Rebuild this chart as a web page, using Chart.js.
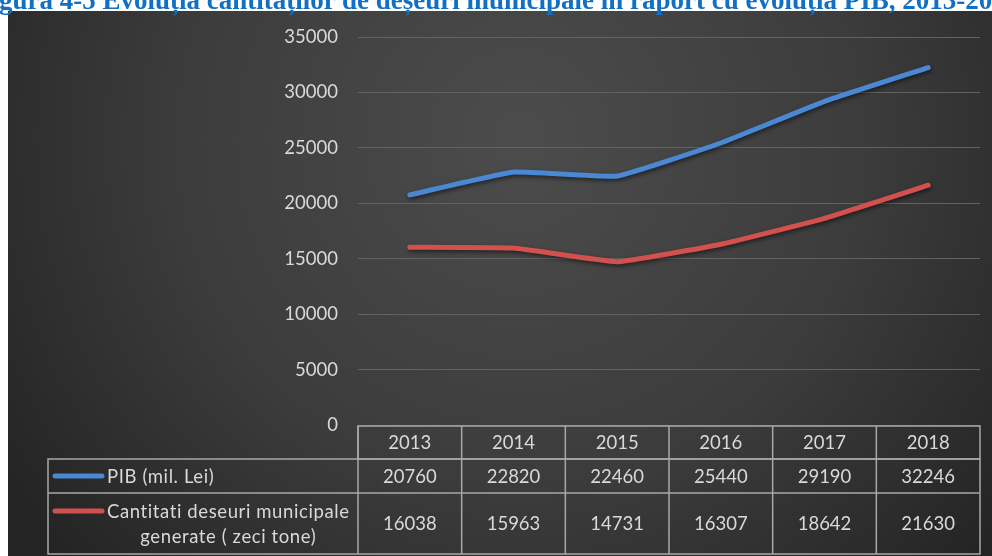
<!DOCTYPE html>
<html lang="ro">
<head>
  <meta charset="UTF-8" />
  <title>Evolutia PIB si deseuri municipale</title>
  <script src="https://cdn.jsdelivr.net/npm/chart.js"></script>
  <style>
    html, body { margin: 0; padding: 0; background: #fff; }
    .wrap { position: relative; width: 992px; height: 556px; overflow: hidden; }
    .title {
      position: absolute;
      left: -25px;
      top: -13px;
      font: bold 27px 'Liberation Serif', 'DejaVu Serif', serif;
      line-height: 27px;
      color: #1170c4;
      white-space: nowrap;
      z-index: 2;
    }
    canvas { position: absolute; left: 0; top: 0; }
  </style>
</head>
<body>
  <div class="wrap">
    <div class="title">Figura 4-5 Evoluția cantităților de deșeuri municipale în raport cu evoluția PIB, 2013-2018</div>
    <canvas id="chart" width="992" height="556"></canvas>
  </div>

  <script>
    const years = ['2013', '2014', '2015', '2016', '2017', '2018'];
    const pib = [20760, 22820, 22460, 25440, 29190, 32246];
    const deseuri = [16038, 15963, 14731, 16307, 18642, 21630];
    const seriesLabels = [['PIB (mil. Lei)'], ['Cantitati deseuri municipale', 'generate ( zeci tone)']];
    const seriesColors = ['#4a88d4', '#d2504e'];
    const yTicks = { min: 0, max: 35000, step: 5000 };

    const textColor = '#d9d9d9';
    const fontFamily = "Lato, 'Open Sans', sans-serif";
    const font = '18.5px ' + fontFamily;

    // dark gradient panel behind the whole chart
    const bgPlugin = {
      id: 'bg',
      beforeDraw(chart) {
        const ctx = chart.ctx;
        const g = ctx.createRadialGradient(520, 140, 0, 520, 140, 620);
        g.addColorStop(0, '#4c4c4c');
        g.addColorStop(0.55, '#3c3c3c');
        g.addColorStop(1, '#242424');
        ctx.save();
        ctx.fillStyle = g;
        ctx.fillRect(8, 11, 984, 545);
        ctx.restore();
      }
    };

    // soft shadow under the lines
    const shadowPlugin = {
      id: 'lineShadow',
      beforeDatasetDraw(chart) {
        const ctx = chart.ctx;
        ctx.save();
        ctx.shadowColor = 'rgba(0,0,0,0.55)';
        ctx.shadowBlur = 4;
        ctx.shadowOffsetX = 1;
        ctx.shadowOffsetY = 2;
      },
      afterDatasetDraw(chart) {
        chart.ctx.restore();
      }
    };

    // data table under the plot area
    const tablePlugin = {
      id: 'dataTable',
      afterDraw(chart) {
        const ctx = chart.ctx;
        const a = chart.chartArea;
        const xs = chart.scales.x;
        const w = (a.right - a.left) / years.length;
        const top = a.bottom + 1;
        const r1 = top + 33;
        const r2 = r1 + 34;
        const bottom = r2 + 61;
        const legLeft = 48;

        ctx.save();
        ctx.strokeStyle = '#a8a8a8';
        ctx.lineWidth = 1.5;
        ctx.strokeRect(a.left, top, a.right - a.left, r1 - top);
        ctx.strokeRect(legLeft, r1, a.right - legLeft, bottom - r1);
        ctx.beginPath();
        ctx.moveTo(legLeft, r2); ctx.lineTo(a.right, r2);
        for (let i = 0; i < years.length; i++) {
          const xl = a.left + i * w;
          ctx.moveTo(xl, top); ctx.lineTo(xl, bottom);
        }
        ctx.stroke();

        ctx.fillStyle = textColor;
        ctx.font = font;
        ctx.textAlign = 'center';
        ctx.textBaseline = 'middle';
        const rows = [pib, deseuri];
        const rowMid = [(r1 + r2) / 2, (r2 + bottom) / 2];
        years.forEach((y, i) => {
          const cx = xs.getPixelForValue(i);
          ctx.fillText(y, cx, (top + r1) / 2 + 1);
          rows.forEach((vals, k) => ctx.fillText(String(vals[i]), cx, rowMid[k] + 1));
        });

        // legend keys + labels
        const lineGap = 25;
        ctx.letterSpacing = '0.6px';
        seriesLabels.forEach((lines, k) => {
          const firstY = rowMid[k] - (lines.length - 1) * lineGap / 2;
          ctx.strokeStyle = seriesColors[k];
          ctx.lineWidth = 5;
          ctx.lineCap = 'round';
          ctx.beginPath();
          ctx.moveTo(55, firstY); ctx.lineTo(102, firstY);
          ctx.stroke();
          const blockW = Math.max(...lines.map(l => ctx.measureText(l).width));
          const cx = 107 + blockW / 2;
          lines.forEach((l, j) => ctx.fillText(l, cx, firstY + j * lineGap + 1));
        });
        ctx.restore();
      }
    };

    new Chart(document.getElementById('chart'), {
      type: 'line',
      data: {
        labels: years,
        datasets: [
          { label: seriesLabels[0].join(' '), data: pib, borderColor: seriesColors[0] },
          { label: seriesLabels[1].join(' '), data: deseuri, borderColor: seriesColors[1] }
        ]
      },
      options: {
        responsive: false,
        animation: false,
        layout: { padding: { left: 0, right: 12, top: 37, bottom: 131 } },
        elements: {
          line: { borderWidth: 5, borderCapStyle: 'round', borderJoinStyle: 'round', tension: 0.1 },
          point: { radius: 0 }
        },
        scales: {
          x: { type: 'category', offset: true, display: false },
          y: {
            min: yTicks.min,
            max: yTicks.max,
            afterFit(scale) { scale.width = 358; },
            ticks: {
              stepSize: yTicks.step,
              color: textColor,
              font: { family: fontFamily, size: 18.5 },
              padding: 20,
              callback: v => String(v)
            },
            grid: { color: '#626262', lineWidth: 1, drawTicks: false },
            border: { display: false }
          }
        },
        plugins: {
          legend: { display: false },
          tooltip: { enabled: false }
        }
      },
      plugins: [bgPlugin, shadowPlugin, tablePlugin]
    });
  </script>
</body>
</html>
